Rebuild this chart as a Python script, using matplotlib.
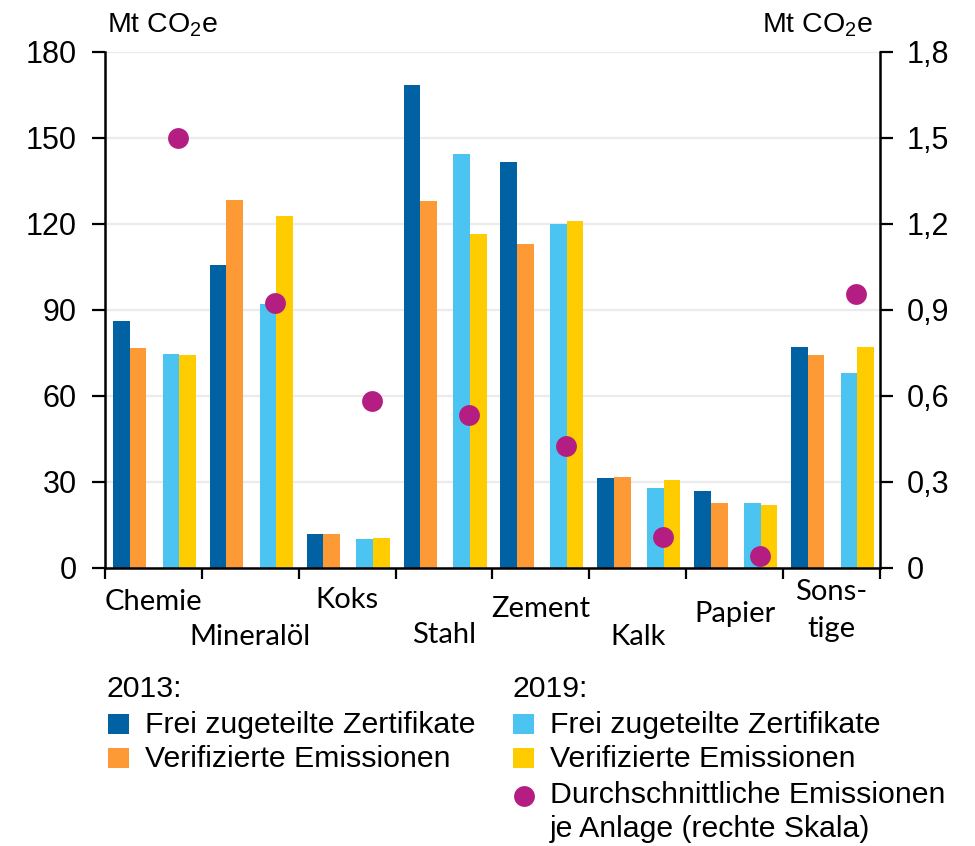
import matplotlib
matplotlib.use("Agg")
import matplotlib.pyplot as plt
import matplotlib.transforms as mtransforms
from matplotlib.patches import Rectangle
from matplotlib.lines import Line2D
import numpy as np

plt.rcParams["font.family"] = ["Liberation Sans", "DejaVu Sans"]
plt.rcParams["mathtext.default"] = "regular"

# data (Mt CO2e)
categories = ["Chemie", "Mineralöl", "Koks", "Stahl", "Zement", "Kalk", "Papier", "Sonstige"]
frei_2013 = [86.0, 105.5, 11.7, 168.4, 141.4, 31.3, 26.8, 77.0]
verif_2013 = [76.6, 128.3, 11.7, 127.8, 112.9, 31.6, 22.6, 74.2]
frei_2019 = [74.5, 92.0, 10.0, 144.3, 119.9, 27.8, 22.6, 67.9]
verif_2019 = [74.1, 122.8, 10.3, 116.3, 120.9, 30.6, 21.9, 77.0]
avg_per_plant = [1.50, 0.922, 0.582, 0.533, 0.424, 0.106, 0.041, 0.955]  # right scale

left_ticks = [0, 30, 60, 90, 120, 150, 180]
right_ticks = [0, 0.3, 0.6, 0.9, 1.2, 1.5, 1.8]
right_labels = ["0", "0,3", "0,6", "0,9", "1,2", "1,5", "1,8"]

label_lines = [["Chemie"], ["Mineralöl"], ["Koks"], ["Stahl"], ["Zement"],
               ["Kalk"], ["Papier"], ["Sons-", "tige"]]

# layout (pixel baselines of category labels)
label_baseline_px = [[610], [645], [608], [643], [617], [645], [622], [600, 637]]

c_dark = "#0062a3"
c_orange = "#fe9a36"
c_light = "#4bc4f2"
c_yellow = "#ffcc00"
c_dot = "#b41e83"

W, H = 975, 846
fig = plt.figure(figsize=(W / 100, H / 100), dpi=100)
ax = fig.add_axes([105 / W, 1 - 567.7 / H, 775 / W, 516 / H])

x = np.arange(len(categories))
bw = 0.172
for vals, off, col in ((frei_2013, 0.168, c_dark),
                       (verif_2013, 0.340, c_orange),
                       (frei_2019, 0.681, c_light),
                       (verif_2019, 0.853, c_yellow)):
    ax.bar(x + off, vals, width=bw, color=col, linewidth=0, zorder=2)

ax.set_xlim(0, len(categories))
ax.set_ylim(0, 180)
ax.set_yticks(left_ticks)
ax.set_yticklabels([str(v) for v in left_ticks])
ax.set_xticks(np.arange(len(categories) + 1))
ax.set_xticklabels([])
ax.yaxis.grid(True, color="#ebebeb", lw=1.6)
ax.set_axisbelow(True)
ax.tick_params(axis="y", direction="out", length=9.5, width=1.6, pad=11, labelsize=22)
ax.tick_params(axis="x", direction="out", length=8, width=1.6)
for sp in ("top", "right"):
    ax.spines[sp].set_visible(False)
for sp in ("left", "bottom"):
    ax.spines[sp].set_linewidth(1.8)

ax2 = ax.twinx()
ax2.set_ylim(0, 1.8)
ax2.set_yticks(right_ticks)
ax2.set_yticklabels(right_labels)
ax2.tick_params(axis="y", direction="out", length=9.5, width=1.6, pad=10, labelsize=22)
ax2.plot(x + 0.757, avg_per_plant, "o", color=c_dot, ms=15, mec="none", zorder=3,
         clip_on=False)
for sp in ("top", "left", "bottom"):
    ax2.spines[sp].set_visible(False)
ax2.spines["right"].set_linewidth(1.8)

# unit labels
fig.text(107 / W, 1 - 32.5 / H, "Mt CO$_2$e", ha="left", va="baseline", fontsize=20.5)
fig.text(873 / W, 1 - 32.5 / H, "Mt CO$_2$e", ha="right", va="baseline", fontsize=20.5)

# category labels, staggered
trans = mtransforms.blended_transform_factory(ax.transData, fig.transFigure)
for i, (lines, ys) in enumerate(zip(label_lines, label_baseline_px)):
    for txt, yb in zip(lines, ys):
        ax.text(i + 0.5, 1 - yb / H, txt, transform=trans, ha="center", va="baseline",
                fontsize=21, family=["Lato", "DejaVu Sans"], clip_on=False)

# legend
fs = 21.8
fig.text(106 / W, 1 - 697 / H, "2013:", fontsize=fs, va="baseline")
fig.text(512 / W, 1 - 697 / H, "2019:", fontsize=fs, va="baseline")
items = [(108, 145, 733, c_dark, "Frei zugeteilte Zertifikate"),
         (108, 145, 767, c_orange, "Verifizierte Emissionen"),
         (513, 550, 733, c_light, "Frei zugeteilte Zertifikate"),
         (513, 550, 767, c_yellow, "Verifizierte Emissionen")]
for xs, xt, yb, col, txt in items:
    fig.add_artist(Rectangle((xs / W, 1 - (yb + 1) / H), 21 / W, 20 / H,
                             transform=fig.transFigure, color=col, lw=0))
    fig.text(xt / W, 1 - yb / H, txt, fontsize=fs, va="baseline")
fig.add_artist(Line2D([524 / W], [1 - 796 / H], marker="o", ms=15, color=c_dot,
                      mec="none", transform=fig.transFigure))
fig.text(550 / W, 1 - 803 / H, "Durchschnittliche Emissionen", fontsize=fs, va="baseline")
fig.text(550 / W, 1 - 837 / H, "je Anlage (rechte Skala)", fontsize=fs, va="baseline")

fig.savefig("out.png", dpi=100)
